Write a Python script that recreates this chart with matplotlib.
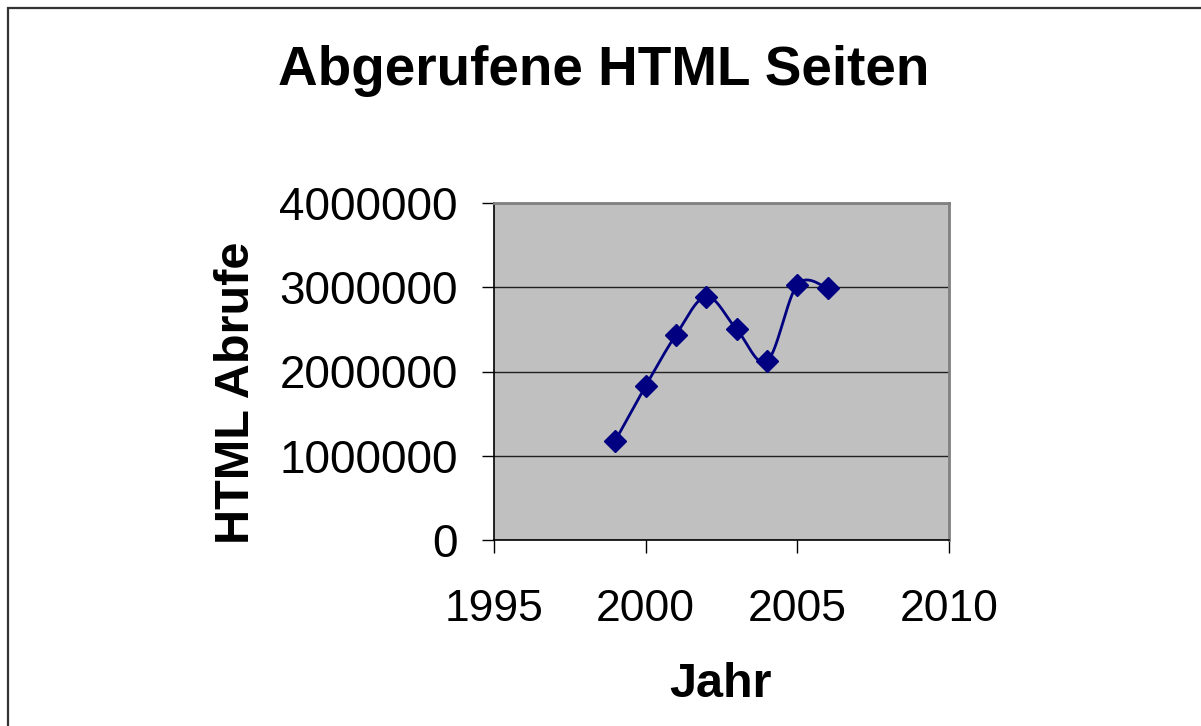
import numpy as np
import matplotlib
matplotlib.use("Agg")
import matplotlib.pyplot as plt
from matplotlib.patches import Rectangle

plt.rcParams['font.family'] = ['Liberation Sans', 'DejaVu Sans']

# Daten
jahre = [1999, 2000, 2001, 2002, 2003, 2004, 2005, 2006]
abrufe = [1180000, 1830000, 2435000, 2890000, 2500000, 2120000, 3030000, 2990000]
x_ticks = [1995, 2000, 2005, 2010]
y_ticks = [0, 1000000, 2000000, 3000000, 4000000]


def smooth_line(x, y, n=30):
    # Excel-artige Glaettung (Catmull-Rom als Bezier)
    x = np.asarray(x, float)
    y = np.asarray(y, float)
    px = np.concatenate([[x[0]], x, [x[-1]]])
    py = np.concatenate([[y[0]], y, [y[-1]]])
    xs, ys = [], []
    t = np.linspace(0, 1, n)
    for i in range(1, len(px) - 2):
        p0 = np.array([px[i], py[i]])
        p3 = np.array([px[i + 1], py[i + 1]])
        p1 = p0 + (np.array([px[i + 1], py[i + 1]]) - np.array([px[i - 1], py[i - 1]])) / 6
        p2 = p3 - (np.array([px[i + 2], py[i + 2]]) - np.array([px[i], py[i]])) / 6
        b = ((1 - t) ** 3)[:, None] * p0 + (3 * (1 - t) ** 2 * t)[:, None] * p1 \
            + (3 * (1 - t) * t ** 2)[:, None] * p2 + (t ** 3)[:, None] * p3
        xs.extend(b[:, 0])
        ys.extend(b[:, 1])
    return xs, ys


fig = plt.figure(figsize=(12.01, 7.26), dpi=100)
ax = fig.add_axes([494 / 1201, 186 / 726, 455 / 1201, 337 / 726])
ax.set_facecolor('#C0C0C0')

sx, sy = smooth_line(jahre, abrufe)
ax.plot(sx, sy, color='#000080', lw=2, zorder=3)
ax.plot(jahre, abrufe, ls='none', marker='D', color='#000080', markersize=11, zorder=4)

ax.set_xlim(1995, 2010)
ax.set_ylim(0, 4000000)
ax.set_xticks(x_ticks)
ax.set_yticks(y_ticks)
ax.set_xticklabels([str(v) for v in x_ticks])
ax.set_yticklabels([str(v) for v in y_ticks])
ax.tick_params(axis='both', labelsize=32, length=9, width=1, color='black', direction='out')
ax.tick_params(axis='y', labelsize=33, pad=17)
ax.tick_params(axis='x', pad=26)
ax.yaxis.grid(True, color='#202020', lw=1)
ax.set_axisbelow(True)

for side in ['top', 'right']:
    ax.spines[side].set_color('#808080')
    ax.spines[side].set_linewidth(2)
for side in ['left', 'bottom']:
    ax.spines[side].set_color('black')
    ax.spines[side].set_linewidth(1.2)

fig.text(604 / 1201, 1 - 85 / 726, 'Abgerufene HTML Seiten', ha='center', va='baseline',
         fontsize=39.5, fontweight='bold')
fig.text(236 / 1201, 1 - 393 / 726, 'HTML Abrufe', ha='center', va='center', rotation=90,
         fontsize=35, fontweight='bold')
fig.text(721 / 1201, 1 - 697 / 726, 'Jahr', ha='center', va='baseline',
         fontsize=35, fontweight='bold')

# Rahmen um das Diagramm
fig.patches.append(Rectangle((7.5 / 1201, -0.1), 1.2, 1 - 7.5 / 726 + 0.1, transform=fig.transFigure,
                             fill=False, edgecolor='#333333', lw=1.6))

fig.savefig('out.png', dpi=100)
